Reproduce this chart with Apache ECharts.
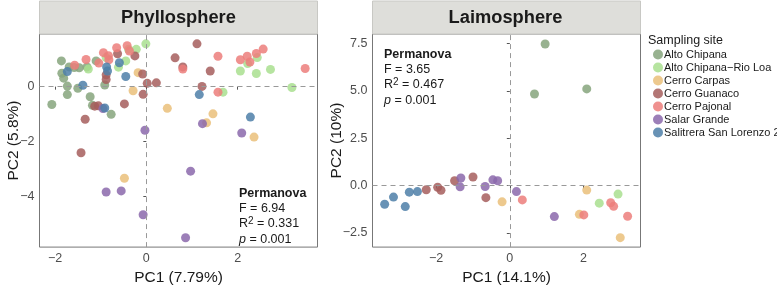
<!DOCTYPE html>
<html><head><meta charset="utf-8">
<script src="https://cdn.jsdelivr.net/npm/echarts@6/dist/echarts.min.js"></script>
<style>html,body{margin:0;padding:0;background:#fff}#c{width:777px;height:291px}</style>
</head><body><div id="c"></div>
<script>
const sites = ["Alto Chipana","Alto Chipana\u2212Rio Loa","Cerro Carpas","Cerro Guanaco","Cerro Pajonal","Salar Grande","Salitrera San Lorenzo 2"];
const colors = ["#86A47C","#A9DF8F","#EABF7A","#A65E5D","#EC7E7B","#8B69AC","#4E7FA8"];

// Phyllosphere PCA scores per site
const phyllo_AltoChipana = [[-2.07,-0.65],[-1.86,0.94],[-1.69,0.72],[-1.85,0.49],[-1.81,0.31],[-1.47,0.69],[-1.30,0.72],[-1.10,0.94],[-0.91,0.06],[-1.73,0.02],[-1.50,-0.06],[-1.73,-0.29],[-1.23,-0.37],[-1.18,-0.68],[-0.77,-1.01],[-1.58,0.70]];
const phyllo_RioLoa = [[-1.27,0.64],[-0.88,1.06],[-0.39,1.36],[-0.22,1.36],[-0.45,0.94],[-0.61,0.71],[-0.01,1.56],[2.43,1.06],[2.22,0.84],[2.06,0.57],[2.41,0.48],[2.72,0.63],[3.19,-0.03],[1.68,-0.20]];
const phyllo_Carpas = [[-0.18,0.51],[-0.29,-0.15],[0.46,-0.79],[1.32,-1.32],[1.46,-0.99],[2.36,-1.84],[-0.48,-3.34]];
const phyllo_Guanaco = [[-0.63,1.20],[-0.25,1.12],[-0.88,0.43],[-0.88,0.26],[-0.08,0.46],[0.02,0.12],[0.22,0.14],[-0.07,-0.28],[-1.13,-0.71],[-1.05,-0.70],[-0.48,-0.63],[-1.34,-1.19],[1.11,1.56],[0.63,1.05],[0.80,0.72],[1.40,0.57],[1.22,0.01],[-1.43,-2.41]];
const phyllo_Pajonal = [[-1.57,0.78],[-1.32,0.99],[-1.04,0.86],[-0.94,1.24],[-0.83,1.13],[-0.82,0.98],[-0.65,1.42],[-0.42,1.49],[-0.37,1.30],[0.80,0.64],[1.57,1.11],[2.06,0.98],[2.21,1.11],[2.41,1.21],[2.56,1.37],[2.27,0.90],[3.48,0.66],[1.57,-0.20]];
const phyllo_Salar = [[-0.95,-0.80],[-0.03,-1.59],[1.23,-1.35],[2.09,-1.69],[-0.88,-3.84],[-0.55,-3.80],[-0.07,-4.67],[0.97,-3.08],[0.86,-5.51]];
const phyllo_Salitrera = [[-1.73,0.55],[-0.59,0.87],[-0.87,0.72],[-0.85,0.57],[-0.45,0.37],[-1.39,0.05],[-0.91,-0.78],[1.16,-0.29],[2.28,-1.11]];

// Laimosphere PCA scores per site
const laimo_AltoChipana = [[0.96,7.47],[0.67,4.83],[2.09,5.10]];
const laimo_RioLoa = [[2.43,-0.93],[2.94,-0.45]];
const laimo_Carpas = [[-0.21,-0.86],[2.09,-0.24],[1.89,-1.52],[3.00,-2.75]];
const laimo_Guanaco = [[-2.27,-0.22],[-1.96,-0.09],[-1.87,-0.25],[-1.50,0.25],[-1.00,0.45],[-0.65,-0.64]];
const laimo_Pajonal = [[0.34,-0.76],[2.01,-1.55],[2.74,-0.91],[2.82,-1.10],[3.20,-1.62]];
const laimo_Salar = [[-1.33,0.40],[-1.35,-0.07],[-0.67,-0.05],[-0.46,0.30],[-0.33,0.25],[0.18,-0.32],[1.21,-1.64]];
const laimo_Salitrera = [[-3.40,-0.99],[-3.16,-0.61],[-2.84,-1.11],[-2.73,-0.35],[-2.51,-0.32]];

const phylloTicksX = [-2,0,2], phylloTicksY = [-4,-2,0];
const laimoTicksX = [-2,0,2], laimoTicksY = [-2.5,0,2.5,5,7.5];

const phyllo = [phyllo_AltoChipana,phyllo_RioLoa,phyllo_Carpas,phyllo_Guanaco,phyllo_Pajonal,phyllo_Salar,phyllo_Salitrera];
const laimo = [laimo_AltoChipana,laimo_RioLoa,laimo_Carpas,laimo_Guanaco,laimo_Pajonal,laimo_Salar,laimo_Salitrera];

const FONT = "Liberation Sans";
const axisCommon = {
  axisLine:{show:false}, splitLine:{show:false},
  axisTick:{show:true, length:3, lineStyle:{color:"#555"}},
  axisLabel:{color:"#4d4d4d", fontSize:12.5, fontFamily:FONT},
  nameTextStyle:{color:"#1a1a1a", fontSize:15.5, fontFamily:FONT},
  nameLocation:"middle"
};
function xAx(gi,min,max,ticks,name){
  return Object.assign({}, axisCommon, {type:"value", gridIndex:gi, min, max, name, nameGap:20,
    axisTick:Object.assign({}, axisCommon.axisTick, {customValues:ticks}),
    axisLabel:Object.assign({}, axisCommon.axisLabel, {customValues:ticks, margin:5, formatter:v=>String(v).replace("-","\u2212")})});
}
function yAx(gi,min,max,ticks,name,fmt,gap){
  return Object.assign({}, axisCommon, {type:"value", gridIndex:gi, min, max, name, nameGap:gap, nameMoveOverlap:false,
    axisTick:Object.assign({}, axisCommon.axisTick, {customValues:ticks}),
    axisLabel:Object.assign({}, axisCommon.axisLabel, {customValues:ticks, margin:5, formatter:v=>fmt(v).replace("-","\u2212")})});
}

const series = [];
sites.forEach((s,i)=>{
  series.push({type:"scatter", name:s, xAxisIndex:0, yAxisIndex:0, data:phyllo[i], symbolSize:9,
    itemStyle:{color:colors[i], opacity:0.85}, z:3});
  series.push({type:"scatter", name:s, xAxisIndex:1, yAxisIndex:1, data:laimo[i], symbolSize:9,
    itemStyle:{color:colors[i], opacity:0.85}, z:3});
});
const ml = {silent:true, symbol:"none", label:{show:false}, lineStyle:{type:[5,4], color:"#999", width:1}, data:[{xAxis:0},{yAxis:0}]};
series.push({type:"scatter", xAxisIndex:0, yAxisIndex:0, data:[], markLine:ml, z:1});
series.push({type:"scatter", xAxisIndex:1, yAxisIndex:1, data:[], markLine:ml, z:1});

const G1 = {left:39.5, top:34, width:278, height:223};
const G2 = {left:372.5, top:34, width:268, height:223};
function annot(x,y,F,R2){
  const rich = {sup:{fontSize:10, verticalAlign:"top", padding:[0,0,6,0], fontFamily:FONT, fill:"#1a1a1a"}, it:{fontStyle:"italic", fontSize:12.5, fontFamily:FONT, fill:"#1a1a1a"}};
  const base = {fontSize:12.5, fontFamily:FONT, fill:"#1a1a1a", textVerticalAlign:"middle"};
  return [
    {type:"text", left:x, top:y-6, style:Object.assign({}, base, {text:"Permanova", fontWeight:"bold"})},
    {type:"text", left:x, top:y+9, style:Object.assign({}, base, {text:"F = "+F})},
    {type:"text", left:x, top:y+23, style:Object.assign({}, base, {text:"R{sup|2} = "+R2, rich})},
    {type:"text", left:x, top:y+40, style:Object.assign({}, base, {text:"{it|p} = 0.001", rich})}
  ];
}
const chart = echarts.init(document.getElementById("c"), null, {renderer:"canvas"});
chart.setOption({
  animation:false,
  grid:[Object.assign({show:true, borderColor:"#777", borderWidth:1, backgroundColor:"#fff"},G1),
        Object.assign({show:true, borderColor:"#777", borderWidth:1, backgroundColor:"#fff"},G2)],
  xAxis:[xAx(0,-2.34,3.75,phylloTicksX,"PC1 (7.79%)"), xAx(1,-3.73,3.55,laimoTicksX,"PC1 (14.1%)")],
  yAxis:[yAx(0,-5.85,1.92,phylloTicksY,"PC2 (5.8%)",v=>String(v),18), yAx(1,-3.25,8.0,laimoTicksY,"PC2 (10%)",v=>v.toFixed(1),28)],
  legend:{orient:"vertical", left:653, top:49, itemWidth:10, itemHeight:10, itemGap:2, icon:"circle", padding:0,
    textStyle:{fontSize:11, fontFamily:FONT, color:"#1a1a1a", padding:[0,0,0,-4]}, data:sites, selectedMode:false},
  graphic:[
    {type:"rect", shape:{x:39.5, y:1, width:278, height:33}, style:{fill:"#DEDEDA", stroke:"#C8C8C4", lineWidth:1}},
    {type:"rect", shape:{x:372.5, y:1, width:268, height:33}, style:{fill:"#DEDEDA", stroke:"#C8C8C4", lineWidth:1}},
    {type:"text", x:178.5, y:18, style:{text:"Phyllosphere", fontSize:18.3, fontWeight:"bold", fontFamily:FONT, fill:"#1a1a1a", textAlign:"center", textVerticalAlign:"middle"}},
    {type:"text", x:505.5, y:18, style:{text:"Laimosphere", fontSize:18.3, fontWeight:"bold", fontFamily:FONT, fill:"#1a1a1a", textAlign:"center", textVerticalAlign:"middle"}},
    {type:"text", left:648, top:34, style:{text:"Sampling site", fontSize:12.5, fontFamily:FONT, fill:"#1a1a1a"}},
    ...annot(239,193,"6.94","0.331"),
    ...annot(384,54,"3.65","0.467")
  ],
  series
});
</script></body></html>
